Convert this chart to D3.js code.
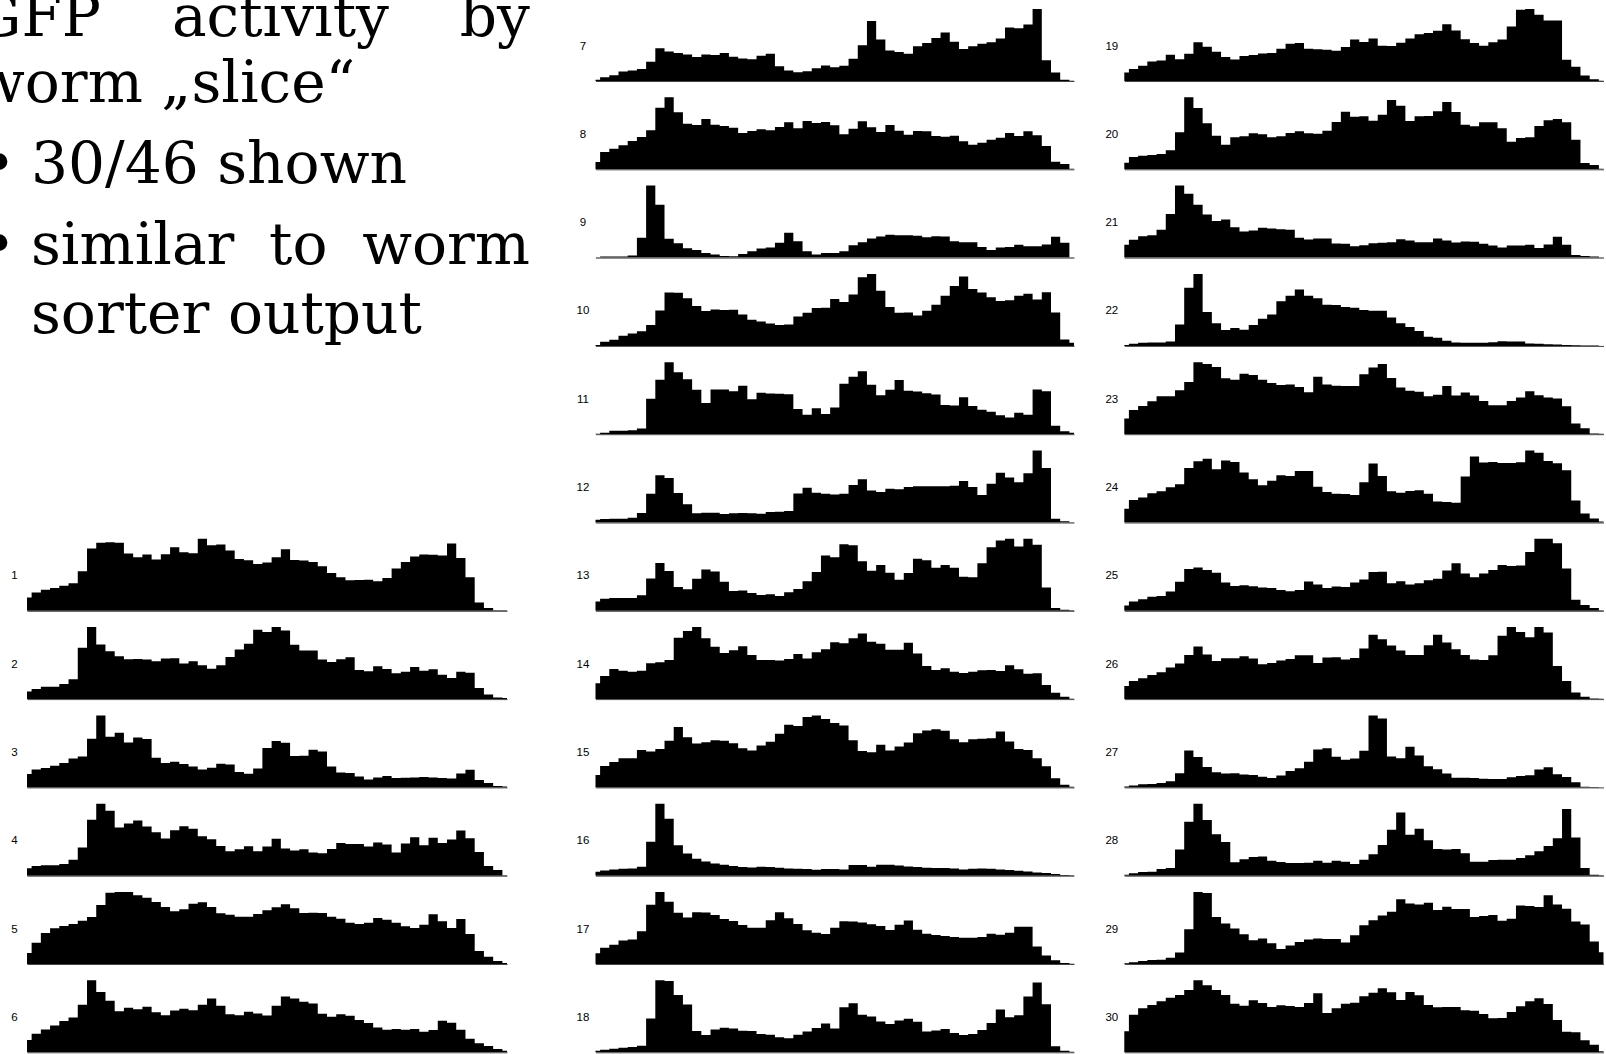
<!DOCTYPE html>
<html>
<head>
<meta charset="utf-8">
<script src="https://cdn.jsdelivr.net/npm/d3@7"></script>
<style>
  body { margin: 0; background: #fff; overflow: hidden; }
  svg { display: block; }
</style>
</head>
<body>
<svg id="chart" width="1606" height="1054"></svg>
<script>
// GFP counts per worm "slice" (53 bins each)
const slice1 = [40,55,63,68,75,82,118,186,203,205,203,171,160,168,153,169,190,175,172,215,196,198,180,155,151,140,144,160,184,152,150,146,133,113,100,91,92,93,88,98,126,146,162,168,167,165,201,158,100,25,8,2,2];
const slice2 = [23,30,37,37,45,59,153,215,163,143,128,119,120,118,113,121,122,106,113,101,91,101,126,148,165,207,200,215,205,162,145,145,118,111,119,125,87,83,98,90,77,82,96,85,89,73,63,82,79,33,14,5,3];
const slice3 = [40,54,58,65,73,87,93,146,216,152,164,135,150,145,89,73,77,70,63,54,59,71,69,46,41,57,118,139,134,94,95,113,108,63,45,43,33,24,30,34,28,29,30,31,30,28,27,42,53,22,13,4,3];
const slice4 = [22,29,31,31,35,48,84,167,215,194,144,156,165,147,130,111,136,148,140,118,109,89,73,79,88,73,87,110,81,75,79,69,67,80,98,95,95,87,99,93,69,96,115,91,113,98,108,135,112,71,29,17,1];
const slice5 = [33,64,93,107,114,120,130,141,177,214,216,216,206,199,186,171,158,164,181,185,171,152,148,142,142,150,161,170,179,167,153,154,153,142,136,124,120,124,138,133,124,113,108,118,149,128,108,135,90,39,22,9,3];
const slice6 = [37,56,69,81,94,105,143,217,182,155,124,134,130,137,121,112,126,131,127,143,162,140,115,112,122,117,111,140,168,162,152,147,116,107,115,110,97,88,75,68,70,68,70,62,67,95,89,68,41,27,19,10,5];
const slice7 = [4,11,17,28,31,36,57,97,88,83,79,71,79,77,83,72,67,65,75,81,44,31,26,29,38,46,41,45,66,106,178,123,91,86,81,103,113,128,144,117,95,103,111,115,126,159,157,168,214,62,25,4,1];
const slice8 = [22,52,62,72,85,97,117,185,216,171,137,133,151,134,130,125,109,115,120,117,127,141,123,145,139,142,132,105,122,144,126,112,133,116,104,115,114,100,98,101,84,74,80,89,95,109,100,114,102,70,23,16,2];
const slice9 = [1,3,3,3,6,59,215,158,56,43,28,23,14,9,5,4,11,19,27,30,44,74,49,19,9,14,14,19,37,46,57,63,68,67,67,65,61,64,63,49,46,46,32,23,30,32,38,34,34,39,62,44,1];
const slice10 = [3,12,18,30,37,43,62,105,158,157,141,118,103,108,106,107,93,77,72,66,62,63,87,98,112,113,139,130,152,203,213,163,115,98,99,90,104,122,148,177,205,168,158,144,133,135,148,154,137,159,99,19,9];
const slice11 = [1,4,10,10,12,17,105,162,214,184,163,132,93,133,133,128,144,104,123,121,120,119,75,58,77,60,79,150,171,187,147,116,132,161,129,127,122,118,87,85,110,84,73,67,56,50,64,58,133,128,25,9,4];
const slice12 = [8,10,11,11,14,28,85,140,132,87,54,27,29,29,25,27,28,27,26,31,32,34,86,103,88,85,83,85,111,128,95,90,100,98,105,107,107,107,107,109,123,105,81,115,147,133,119,146,213,161,11,4,1];
const slice13 = [28,36,38,38,38,46,96,142,118,71,64,95,123,117,86,59,60,53,47,49,44,55,65,88,115,164,159,198,195,147,119,136,113,92,112,155,150,128,136,128,101,100,141,189,209,214,191,214,196,69,8,3,2];
const slice14 = [47,69,90,85,82,85,107,110,117,183,203,215,182,156,138,146,158,132,117,117,115,120,135,121,140,149,170,167,182,196,171,165,147,147,168,136,99,87,92,82,78,82,86,87,84,101,89,76,77,42,19,7,1];
const slice15 = [37,64,76,87,87,112,107,115,139,180,150,131,135,141,139,132,117,110,125,136,160,187,183,210,215,204,192,185,141,109,105,127,110,122,134,162,170,174,169,144,135,144,145,147,167,137,115,112,87,63,27,8,2];
const slice16 = [12,16,19,21,22,27,102,217,172,92,67,51,43,37,33,29,26,25,27,26,24,22,21,20,18,20,20,19,32,32,27,33,33,31,28,26,24,23,23,22,19,21,22,21,19,17,15,13,10,8,5,2,1];
const slice17 = [32,48,57,70,73,97,176,214,185,152,138,154,153,146,134,128,116,108,108,130,154,136,119,100,93,89,108,127,126,123,118,113,101,117,129,102,90,86,83,80,78,78,80,90,87,93,111,111,52,25,11,3,1];
const slice18 = [5,8,11,14,16,20,102,217,215,173,144,64,52,69,74,72,65,64,55,53,45,42,53,63,73,87,72,136,148,113,108,93,85,96,101,92,63,66,70,58,52,55,67,88,129,106,112,168,210,145,18,5,2];
const slice19 = [25,36,45,58,61,78,65,81,115,102,87,71,64,74,77,82,83,96,111,113,96,94,93,90,101,123,116,126,105,104,114,126,139,143,149,169,150,124,113,105,115,123,162,212,214,197,180,180,63,42,16,5,1];
const slice20 = [20,37,41,43,46,57,111,216,184,138,101,74,96,99,108,105,96,99,109,114,108,107,116,142,173,158,159,146,164,208,191,145,159,160,174,202,172,134,129,141,141,123,83,94,96,130,147,151,141,89,19,13,2];
const slice21 = [38,53,64,67,83,130,215,191,158,129,109,114,91,78,81,89,87,85,83,59,54,57,57,42,41,34,37,43,44,46,55,51,46,46,57,51,45,48,47,41,36,30,36,36,38,29,39,62,38,8,5,3,1];
const slice22 = [3,6,9,10,10,13,63,172,213,100,67,47,53,48,62,80,93,132,148,167,148,141,122,121,115,113,106,104,104,84,67,56,44,27,24,15,10,9,9,9,11,14,13,13,7,6,5,4,3,2,1,1,0];
const slice23 = [47,72,84,98,113,113,131,155,214,209,200,166,162,180,176,162,152,146,148,140,125,171,148,144,143,143,178,198,209,167,139,129,126,113,117,143,115,124,115,99,86,86,99,109,128,116,109,106,83,32,18,2,1];
const slice24 = [41,67,75,87,93,105,114,163,183,190,159,185,181,149,129,111,125,141,139,154,154,107,91,86,85,82,120,176,139,93,89,94,96,86,63,61,59,137,197,179,181,178,178,180,215,208,184,177,156,66,27,12,3];
const slice25 = [16,28,34,42,44,57,86,124,129,121,113,84,74,76,73,69,68,62,58,62,87,78,68,72,71,84,93,115,116,82,88,78,82,91,95,120,141,111,100,111,121,136,133,135,175,214,214,201,126,33,17,8,2];
const slice26 = [39,54,62,72,80,94,106,132,157,133,114,122,122,128,121,104,108,115,120,131,131,108,124,125,118,123,151,192,179,160,145,132,132,161,192,169,149,132,118,117,131,189,215,200,185,215,199,99,54,20,7,2,1];
const slice27 = [3,6,9,10,13,18,42,110,90,61,45,41,42,38,37,32,28,35,49,57,76,113,116,91,82,86,109,214,205,92,87,121,95,63,54,41,29,29,28,26,25,25,30,34,36,53,60,39,31,15,2,1,0];
const slice28 = [3,7,11,12,20,23,78,161,215,166,124,101,40,49,56,57,45,41,38,38,39,45,39,45,42,35,48,64,92,137,189,122,140,106,80,78,80,67,42,42,47,48,48,53,61,73,89,112,199,114,23,3,1];
const slice29 = [2,5,9,12,13,19,34,104,215,212,140,121,106,89,71,76,62,45,55,66,73,76,75,75,64,86,116,131,145,156,193,181,178,183,161,171,164,164,140,143,146,129,135,175,173,170,205,178,165,127,118,67,35];
const slice30 = [63,113,132,142,153,164,172,187,216,201,187,172,146,140,156,148,136,141,139,136,148,177,118,132,146,149,168,179,192,180,157,181,171,142,135,136,136,126,125,115,102,103,121,138,153,162,145,97,62,60,36,23,3];

const histograms = [slice1, slice2, slice3, slice4, slice5, slice6, slice7, slice8, slice9, slice10,
  slice11, slice12, slice13, slice14, slice15, slice16, slice17, slice18, slice19, slice20,
  slice21, slice22, slice23, slice24, slice25, slice26, slice27, slice28, slice29, slice30];
const panelLabels = histograms.map((d, i) => String(i + 1));

// slide text
const titleLines = ['GFP activity by', 'worm \u201Eslice\u201C'];
const bulletLines = [['30/46 shown'], ['similar to worm', 'sorter output']];

const svg = d3.select('#chart');

// ---- histograms ----
const nBins = slice1.length;
const rowTop = 81, rowStep = 88.3, barHeight = 72;

// three columns: 1-6 on the left (lower half), 7-18 middle, 19-30 right
const columns = [
  {x0: 27, x1: 507, first: 0, count: 6, startRow: 6},
  {x0: 595.5, x1: 1074, first: 6, count: 12, startRow: 0},
  {x0: 1124.3, x1: 1603.5, first: 18, count: 12, startRow: 0}
];

columns.forEach(col => {
  const xScale = d3.scaleLinear()
    .domain([0, nBins - 1])
    .range([col.x0, col.x1]);

  d3.range(col.first, col.first + col.count).forEach((p, k) => {
    const data = histograms[p];
    const base = rowTop + rowStep * (col.startRow + k);

    const yScale = d3.scaleLinear()
      .domain([0, d3.max(data)])
      .range([base, base - barHeight]);

    // bins are centred on 0..52, so a step curve puts the edges half way
    const bars = d3.area()
      .curve(d3.curveStep)
      .x((d, i) => xScale(i))
      .y0(base)
      .y1(d => yScale(d));

    const panel = svg.append('g').attr('class', 'panel');

    panel.append('path')
      .datum(data)
      .attr('d', bars)
      .attr('fill', '#000');

    // bare baseline axis
    panel.append('g')
      .attr('transform', `translate(0, ${base})`)
      .call(d3.axisBottom(xScale).tickValues([]).tickSizeOuter(0))
      .call(g => g.select('.domain').attr('stroke', '#444').attr('stroke-width', 1));

    panel.append('text')
      .attr('x', col.x0 - 12.5)
      .attr('y', base - 35.5)
      .attr('text-anchor', 'middle')
      .attr('dominant-baseline', 'central')
      .attr('font-family', '"Liberation Sans", Arial, sans-serif')
      .attr('font-size', 11.5)
      .attr('fill', '#000')
      .text(panelLabels[p]);
  });
});

// ---- slide text ----
const serif = '"DejaVu Serif", serif';
const measure = (s, size) => {
  const t = svg.append('text').attr('font-family', serif).attr('font-size', size).text(s);
  const w = t.node().getComputedTextLength();
  t.remove();
  return w;
};
const fontSize = 100 * 391 / measure('sorter output', 100);

const slide = svg.append('g')
  .attr('font-family', serif)
  .attr('font-size', fontSize)
  .attr('fill', '#000');

const justify = (line, y, left, right) => {
  const words = line.split(' ');
  const widths = words.map(w => measure(w, fontSize));
  const gap = (right - left - d3.sum(widths)) / (words.length - 1);
  let x = left;
  words.forEach((w, k) => {
    slide.append('text').attr('x', x).attr('y', y).text(w);
    x += widths[k] + gap;
  });
};

const textRight = 530, bulletLeft = 31;
const titleLeft = 101 - measure('GFP', fontSize);

justify(titleLines[0], 36, titleLeft, textRight);
slide.append('text').attr('x', titleLeft).attr('y', 102).text(titleLines[1]);

slide.append('text').attr('x', -1).attr('y', 183).attr('text-anchor', 'middle').text('\u2022');
slide.append('text').attr('x', bulletLeft).attr('y', 183).text(bulletLines[0][0]);

slide.append('text').attr('x', -1).attr('y', 264).attr('text-anchor', 'middle').text('\u2022');
justify(bulletLines[1][0], 264, bulletLeft, textRight);
slide.append('text').attr('x', bulletLeft).attr('y', 333).text(bulletLines[1][1]);
</script>
</body>
</html>
